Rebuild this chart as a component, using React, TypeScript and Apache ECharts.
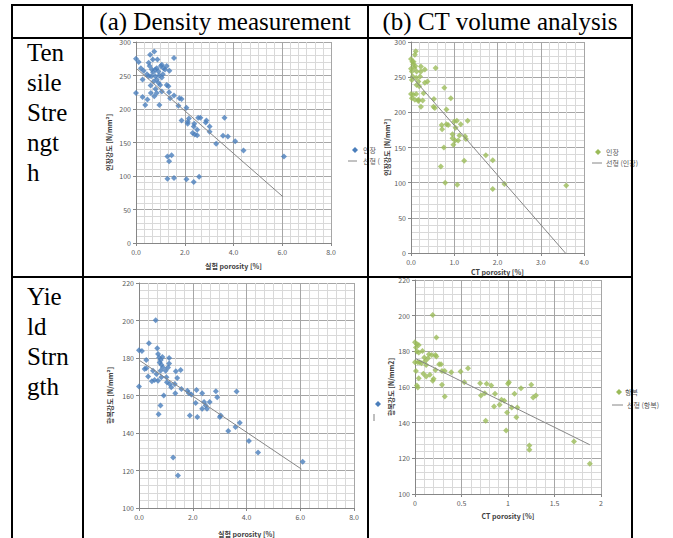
import React, { useEffect, useRef } from "react";
import * as echarts from "echarts";

// ---------- data ----------
// (a) tensile strength vs density-measured porosity
const tensileDensity: number[][] = [
  [0.0, 275], [0.11, 270], [0.2, 261], [0.31, 257], [0.27, 244], [0.0, 224], [0.27, 218], [0.38, 206],
  [0.47, 214], [0.52, 269], [0.58, 281], [0.75, 286], [0.69, 274], [0.56, 264], [0.65, 259], [0.52, 249],
  [0.62, 249], [0.79, 259], [0.85, 261], [0.88, 274], [0.92, 256], [1.02, 264], [1.06, 266], [1.13, 261],
  [1.26, 264], [1.19, 259], [1.37, 257], [1.56, 276], [0.72, 241], [0.85, 244], [0.92, 239], [0.99, 236],
  [0.79, 249], [1.06, 247], [1.26, 236], [1.33, 234], [0.61, 224], [0.75, 219], [0.85, 224], [1.06, 226],
  [0.96, 206], [1.4, 216], [1.36, 225], [1.56, 220], [1.78, 216], [1.87, 215], [1.74, 205], [2.07, 202],
  [1.87, 183], [2.12, 181], [2.12, 178], [2.17, 186], [2.39, 178], [2.37, 174], [2.55, 187], [2.64, 187],
  [2.51, 169], [2.32, 164], [2.41, 162], [2.51, 161], [2.89, 183], [2.86, 180], [3.02, 174], [3.02, 166],
  [3.29, 148], [3.63, 187], [3.57, 160], [3.77, 159], [4.07, 152], [4.41, 138], [6.07, 129], [1.29, 129],
  [1.46, 131], [1.36, 122], [1.29, 96], [1.56, 97], [2.07, 95], [2.37, 91], [2.59, 99], [0.45, 252],
  [0.7, 255], [0.95, 250], [1.1, 252], [0.6, 235], [0.8, 230],
];
const tensileDensityTrend: number[][] = [[0, 261], [6.03, 69]];

// (b) tensile strength vs CT porosity
const tensileCT: number[][] = [
  [0.0, 276], [0.03, 272], [0.05, 268], [0.09, 282], [0.11, 287], [0.08, 263], [0.02, 258], [0.04, 251],
  [0.13, 258], [0.02, 246], [0.12, 249], [0.23, 265], [0.23, 258], [0.32, 261], [0.57, 263], [0.21, 251],
  [0.17, 244], [0.13, 239], [0.19, 237], [0.32, 242], [0.38, 244], [0.29, 227], [0.0, 226], [0.05, 225],
  [0.12, 226], [0.02, 220], [0.09, 218], [0.17, 218], [0.17, 216], [0.27, 217], [0.23, 208], [0.52, 208],
  [0.53, 219], [0.55, 206], [0.77, 235], [0.92, 220], [0.82, 204], [0.71, 182], [0.72, 176], [0.82, 183],
  [0.86, 182], [1.0, 187], [1.06, 188], [1.03, 178], [1.15, 183], [1.31, 188], [0.96, 169], [0.96, 163],
  [0.98, 154], [1.02, 160], [1.12, 167], [1.09, 160], [1.25, 166], [1.27, 162], [0.76, 150], [1.73, 139],
  [1.89, 132], [1.23, 131], [0.69, 123], [0.79, 100], [1.07, 97], [1.89, 91], [2.16, 98], [3.59, 96],
  [0.06, 272], [0.1, 266], [0.0, 262],
];
const tensileCTTrend: number[][] = [[0, 252], [3.57, 0]];

// (c) yield strength vs density-measured porosity
const yieldDensity: number[][] = [
  [0.0, 184.2], [0.11, 183.8], [0.0, 164.8], [0.27, 178.9], [0.21, 174.1], [0.27, 174.6], [0.37, 187.9],
  [0.34, 170.2], [0.48, 167.6], [0.52, 173.2], [0.62, 200.2], [0.68, 185.2], [0.71, 182.1], [0.75, 180.3],
  [0.77, 177.6], [0.81, 178.9], [0.87, 180.6], [0.83, 176.4], [0.89, 175], [0.8, 173.2], [0.65, 171.5],
  [0.58, 168.3], [0.71, 167.9], [0.83, 169.7], [0.99, 173.2], [1.08, 175], [1.12, 180], [1.12, 177.1],
  [1.02, 169.7], [1.04, 167.1], [1.14, 166.2], [1.2, 164.4], [1.33, 166.2], [1.37, 172.9], [1.42, 169.4],
  [1.55, 173.6], [1.35, 161.2], [0.92, 160], [0.8, 154.7], [0.73, 150], [1.58, 163.5], [1.8, 162.6],
  [1.85, 161.4], [1.95, 160.5], [2.14, 163], [2.11, 156], [1.89, 149.4], [2.17, 148.5], [2.35, 161.2],
  [2.42, 156.5], [2.48, 154.7], [2.53, 152.9], [2.35, 152.9], [2.63, 156.5], [2.86, 162.3], [2.91, 159.1],
  [3.01, 148.5], [3.04, 149.4], [3.32, 141.1], [3.59, 143.2], [3.63, 162.1], [3.75, 145.5], [4.09, 135.8],
  [4.43, 129.6], [6.09, 124.7], [1.27, 127], [1.45, 117.3],
];
const yieldDensityTrend: number[][] = [[0, 178.9], [6.05, 120.7]];

// (d) yield strength vs CT porosity
const yieldCT: number[][] = [
  [0.0, 185.1], [0.02, 184], [0.01, 182.1], [0.04, 183.6], [0.02, 179.9], [0.04, 179.3], [0.0, 173.9],
  [0.03, 173.9], [0.05, 173.9], [0.01, 169], [0.02, 160.8], [0.03, 159.7], [0.04, 164.9], [0.07, 173.3],
  [0.08, 180.2], [0.1, 176.5], [0.11, 174.6], [0.12, 172.4], [0.09, 167.4], [0.12, 165.9], [0.14, 176.1],
  [0.15, 178.4], [0.16, 166.8], [0.18, 178], [0.19, 200.4], [0.2, 164.6], [0.19, 163.5], [0.22, 178],
  [0.23, 187.7], [0.23, 177.1], [0.22, 169.6], [0.26, 172.8], [0.28, 172.8], [0.29, 169], [0.29, 161.2],
  [0.32, 169], [0.32, 154.7], [0.39, 168.3], [0.49, 168.7], [0.53, 162.7], [0.57, 170.5], [0.7, 162.1],
  [0.71, 155.2], [0.75, 156.5], [0.77, 161.8], [0.76, 141.1], [0.82, 160.8], [0.85, 149.1], [0.86, 156.2],
  [0.91, 150], [0.93, 152.8], [0.96, 152.3], [0.99, 145.7], [0.98, 135.6], [1.0, 161.8], [1.01, 162.7],
  [1.04, 148.5], [1.07, 156.2], [1.09, 143.1], [1.1, 148.5], [1.14, 159.3], [1.25, 161.2], [1.27, 154.1],
  [1.3, 155.2], [1.23, 127.2], [1.23, 124.8], [1.71, 129.5], [1.88, 117],
];
const yieldCTTrend: number[][] = [[0, 176.1], [1.88, 127.6]];

// tick labels / titles
const headerTitles = ["(a) Density measurement", "(b) CT volume analysis"];
const rowTensile = ["Ten", "sile", "Stre", "ngt", "h"];
const rowYield = ["Yie", "ld", "Strn", "gth"];
const xTitleDensity = "실험 porosity [%]";
const xTitleCT = "CT porosity [%]";
const yTitleTensile = "인장강도 [N/mm²]";
const yTitleYieldA = "항복강도 [N/mm²]";
const yTitleYieldB = "항복강도 [N/mm2]";
const legendTensile = ["인장", "선형 (인장)"];
const legendYield = ["항복", "선형 (항복)"];

const BLUE = "#4a7ebb";
const GREEN = "#9bbb59";
const TREND = "#868686";
const SANS = "Noto Sans CJK KR";
const SERIF = "Liberation Serif";

function xAxis(gi: number, max: number, interval: number, minor: number, name: string, nameGap: number, dec: number) {
  return {
    gridIndex: gi, type: "value", min: 0, max, interval,
    name, nameLocation: "middle", nameGap,
    nameTextStyle: { fontSize: 7, color: "#404040", fontWeight: "bold", fontFamily: SANS },
    axisLine: { show: true, onZero: false, lineStyle: { color: "#868686" } },
    axisTick: { show: true, length: 3, lineStyle: { color: "#868686" } },
    axisLabel: { fontSize: 7, color: "#595959", margin: 5, fontFamily: SANS,
      formatter: (v: number) => (dec < 0 ? String(v) : v.toFixed(dec)) },
    splitLine: { show: true, lineStyle: { color: "#a6a6a6", width: 1 } },
    minorTick: { show: false, splitNumber: minor },
    minorSplitLine: { show: true, lineStyle: { color: "#d9d9d9", width: 1 } },
  };
}
function yAxis(gi: number, min: number, max: number, interval: number, minor: number, name: string, nameGap: number) {
  return {
    gridIndex: gi, type: "value", min, max, interval,
    name, nameLocation: "middle", nameGap,
    nameTextStyle: { fontSize: 7, color: "#404040", fontWeight: "bold", fontFamily: SANS },
    axisLine: { show: true, lineStyle: { color: "#868686" } },
    axisTick: { show: true, length: 3, lineStyle: { color: "#868686" } },
    axisLabel: { fontSize: 7, color: "#595959", margin: 5, fontFamily: SANS },
    splitLine: { show: true, lineStyle: { color: "#a6a6a6", width: 1 } },
    minorTick: { show: false, splitNumber: minor },
    minorSplitLine: { show: true, lineStyle: { color: "#d9d9d9", width: 1 } },
  };
}
function scatter(gi: number, name: string, data: number[][], color: string) {
  return { type: "scatter", name, xAxisIndex: gi, yAxisIndex: gi, data, symbol: "diamond", symbolSize: 6,
    itemStyle: { color }, silent: true };
}
function trend(gi: number, name: string, data: number[][]) {
  return { type: "line", name, xAxisIndex: gi, yAxisIndex: gi, data, showSymbol: false, symbol: "none",
    lineStyle: { color: TREND, width: 1 }, silent: true, z: 3 };
}
function diamond(cx: number, cy: number, r: number, color: string) {
  return { type: "polygon", shape: { points: [[cx, cy - r], [cx + r, cy], [cx, cy + r], [cx - r, cy]] },
    style: { fill: color }, z: 50 };
}
function smallText(x: number, y: number, text: string) {
  return { type: "text", x, y, style: { text, fontSize: 7, fill: "#595959", fontFamily: SANS,
    textVerticalAlign: "middle", verticalAlign: "middle" }, z: 50 };
}
function hline(x1: number, x2: number, y: number, color: string, w: number, z: number) {
  return { type: "line", shape: { x1, y1: y, x2, y2: y }, style: { stroke: color, lineWidth: w }, z };
}
function vline(x: number, y1: number, y2: number, color: string, w: number, z: number) {
  return { type: "line", shape: { x1: x, y1, x2: x, y2 }, style: { stroke: color, lineWidth: w }, z };
}
function bigText(x: number, y: number, text: string, center: boolean) {
  return { type: "text", x, y, style: { text, fontSize: 25, fontFamily: SERIF, fill: "#000",
    textAlign: center ? "center" : "left", align: center ? "center" : "left",
    textVerticalAlign: "middle", verticalAlign: "middle" }, z: 60 };
}

export default function App() {
  const ref = useRef<HTMLDivElement>(null);
  useEffect(() => {
    if (!ref.current) return;
    const chart = echarts.init(ref.current, undefined, { renderer: "svg" });
    const graphics: any[] = [];
    // legends
    graphics.push(diamond(355, 150, 3, BLUE), smallText(363, 150, legendTensile[0]),
      hline(348, 357, 161, TREND, 1, 50), smallText(363, 161, "선형 ("));
    graphics.push(diamond(598, 152, 3, GREEN), smallText(606, 152, legendTensile[0]),
      hline(592, 602, 163, TREND, 1, 50), smallText(606, 163, legendTensile[1]));
    graphics.push(diamond(378, 404, 3, BLUE), vline(374, 414, 421, "#808080", 1, 50));
    graphics.push(diamond(619, 392, 3, GREEN), smallText(625, 392, legendYield[0]),
      hline(612, 623, 405, TREND, 1, 50), smallText(627, 405, legendYield[1]));
    // table texts
    graphics.push(bigText(225, 21, headerTitles[0], true), bigText(500, 21, headerTitles[1], true));
    rowTensile.forEach((t, i) => graphics.push(bigText(27, 52 + 30.2 * i, t, false)));
    rowYield.forEach((t, i) => graphics.push(bigText(27, 296 + 30 * i, t, false)));
    // table borders
    graphics.push(hline(11, 633, 5, "#000", 2, 100), hline(11, 633, 38, "#000", 2, 100), hline(11, 633, 277, "#000", 2, 100));
    [12, 83, 368, 632].forEach((x) => graphics.push(vline(x, 4, 538, "#000", 2, 100)));

    chart.setOption({
      animation: false,
      backgroundColor: "#fff",
      grid: [
        { left: 136, top: 42, width: 195, height: 201 },
        { left: 411, top: 42, width: 173, height: 211 },
        { left: 139, top: 283, width: 215, height: 227 },
        { left: 415, top: 280, width: 186, height: 214 },
      ],
      xAxis: [
        xAxis(0, 8, 2, 6, xTitleDensity, 19, 1),
        xAxis(1, 4, 1, 5, xTitleCT, 15, 1),
        xAxis(2, 8, 2, 6, xTitleDensity, 22, 1),
        xAxis(3, 2, 0.5, 5, xTitleCT, 18, -1),
      ],
      yAxis: [
        yAxis(0, 0, 300, 50, 5, yTitleTensile, 24),
        yAxis(1, 0, 300, 50, 5, yTitleTensile, 13),
        yAxis(2, 100, 220, 20, 5, yTitleYieldA, 26),
        yAxis(3, 100, 220, 20, 5, yTitleYieldB, 17),
      ],
      series: [
        scatter(0, "인장 (a)", tensileDensity, BLUE), trend(0, "선형 (인장) (a)", tensileDensityTrend),
        scatter(1, "인장 (b)", tensileCT, GREEN), trend(1, "선형 (인장) (b)", tensileCTTrend),
        scatter(2, "항복 (a)", yieldDensity, BLUE), trend(2, "선형 (항복) (a)", yieldDensityTrend),
        scatter(3, "항복 (b)", yieldCT, GREEN), trend(3, "선형 (항복) (b)", yieldCTTrend),
      ],
      graphic: { elements: graphics },
    });
    return () => chart.dispose();
  }, []);
  return <div ref={ref} style={{ position: "absolute", left: 0, top: 0, width: 673, height: 538 }} />;
}
